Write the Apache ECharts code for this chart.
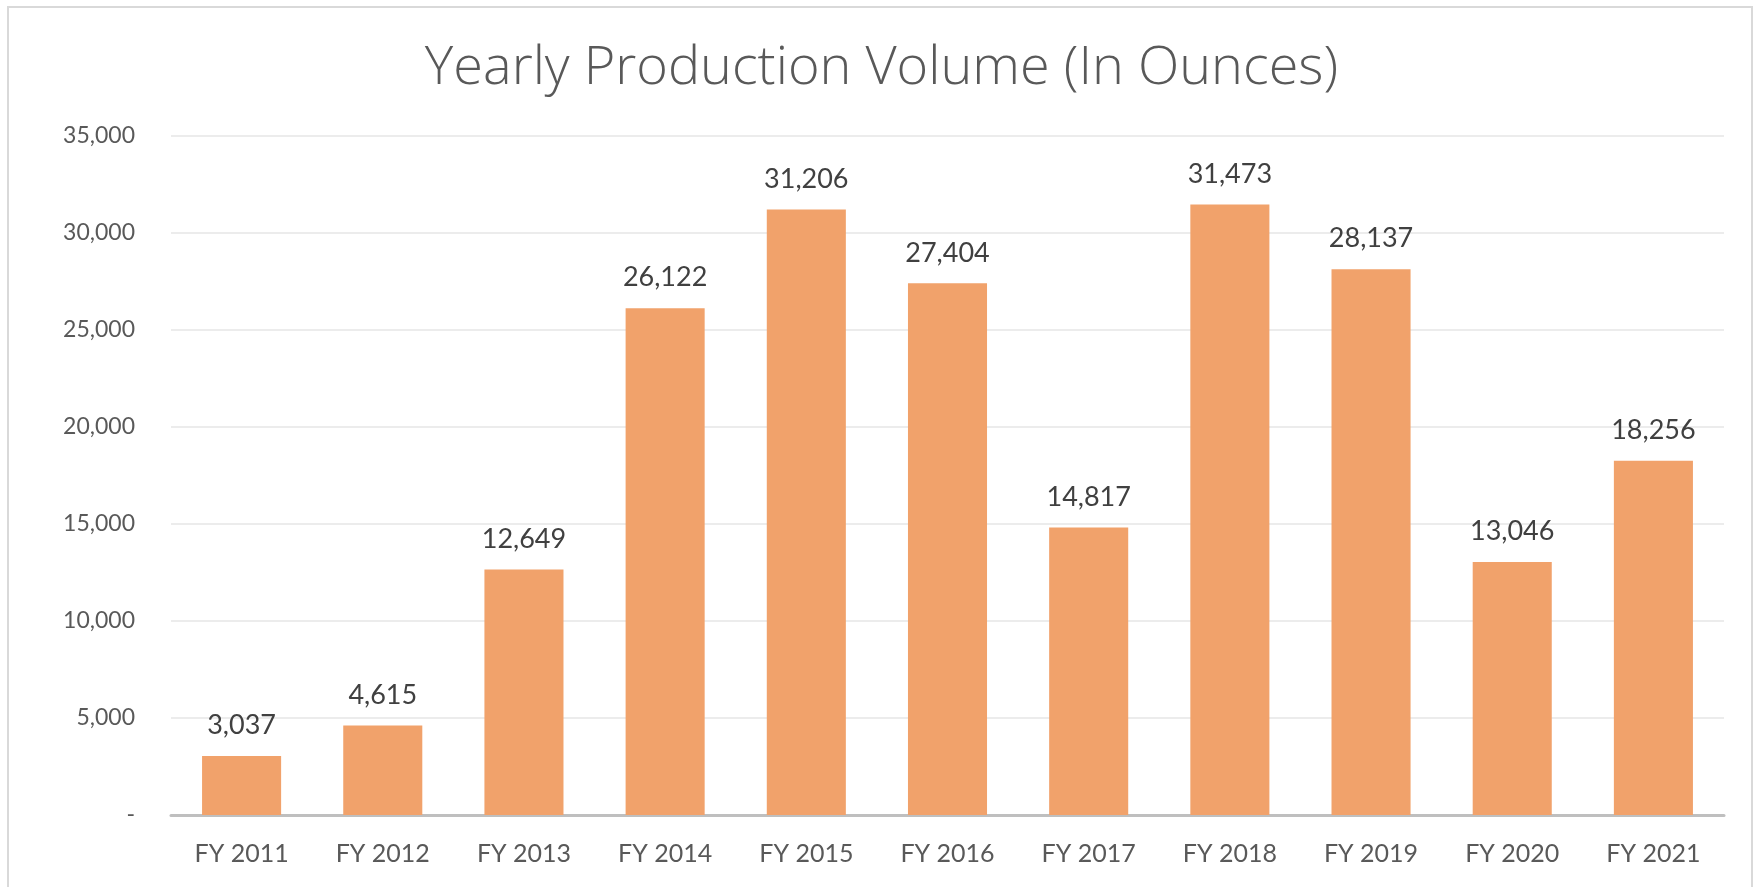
<!DOCTYPE html>
<html>
<head>
<meta charset="utf-8">
<script src="https://cdn.jsdelivr.net/npm/echarts@6/dist/echarts.min.js"></script>
<style>
    html, body { margin: 0; padding: 0; background: #ffffff; }
    #frame {
        position: absolute;
        left: 7px; top: 6px;
        width: 1746px; height: 890px;
        border: 2px solid #d9d9d9;
        box-sizing: border-box;
    }
    #chart { position: absolute; left: 0; top: 0; width: 1763px; height: 887px; }
</style>
</head>
<body>
<div id="frame"></div>
<div id="chart"></div>
<script>
    const years = ['FY 2011', 'FY 2012', 'FY 2013', 'FY 2014', 'FY 2015', 'FY 2016', 'FY 2017', 'FY 2018', 'FY 2019', 'FY 2020', 'FY 2021'];
    const volumes = [3037, 4615, 12649, 26122, 31206, 27404, 14817, 31473, 28137, 13046, 18256];
    const yTicks = [0, 5000, 10000, 15000, 20000, 25000, 30000, 35000];

    function format(value) {
        return (value + '').replace(/\B(?=(\d{3})+(?!\d))/g, ',');
    }

    const option = {
        animation: false,
        title: {
            text: 'Yearly Production Volume (In Ounces)',
            left: 'center',
            top: 37,
            textStyle: {
                fontFamily: 'Open Sans',
                fontWeight: 300,
                fontSize: 54,
                color: '#595959'
            }
        },
        grid: {
            top: 136,
            left: 171,
            right: 39,
            bottom: 72
        },
        xAxis: {
            type: 'category',
            data: years,
            axisTick: { show: false },
            axisLine: { lineStyle: { color: '#bfbfbf', width: 3 } },
            axisLabel: {
                margin: 26,
                fontFamily: 'Lato',
                fontSize: 25,
                color: '#595959'
            }
        },
        yAxis: {
            type: 'value',
            min: yTicks[0],
            max: yTicks[yTicks.length - 1],
            interval: 5000,
            axisLine: { show: false },
            axisTick: { show: false },
            splitLine: { lineStyle: { color: '#ececec', width: 2 } },
            axisLabel: {
                margin: 36,
                fontFamily: 'Lato',
                fontSize: 23,
                color: '#595959',
                formatter: function (v) { return v === 0 ? '-' : format(v); }
            }
        },
        series: [{
            type: 'bar',
            data: volumes,
            barWidth: '56%',
            itemStyle: { color: '#f1a26b' },
            label: {
                show: true,
                position: 'top',
                distance: 17,
                fontFamily: 'Lato',
                fontSize: 27,
                color: '#404040',
                formatter: function (p) { return format(p.value); }
            }
        }]
    };

    echarts.init(document.getElementById('chart')).setOption(option);
</script>
</body>
</html>
